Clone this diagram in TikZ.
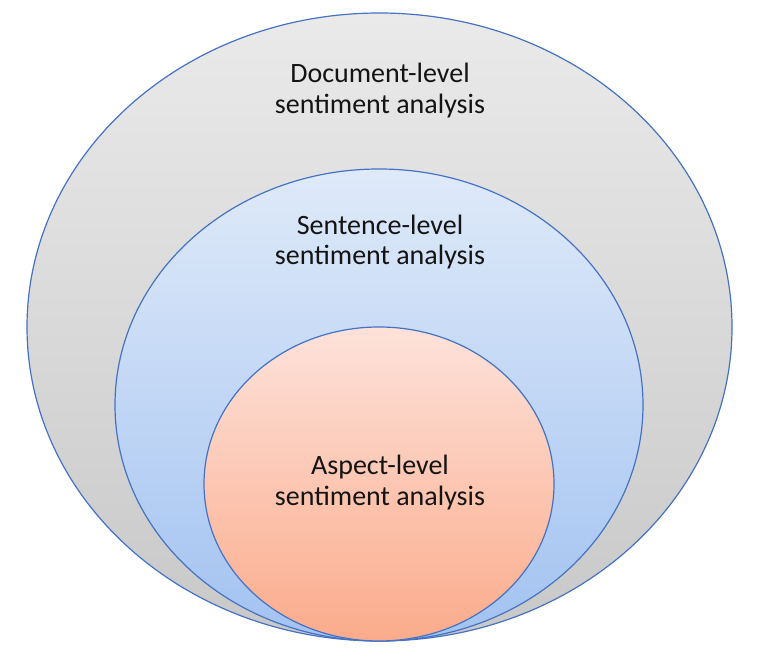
\documentclass[tikz,border=0pt]{standalone}
\usepackage{fontspec}
\setmainfont{Carlito}
\usetikzlibrary{shapes.geometric}
\definecolor{rim}{HTML}{4472C4}
\definecolor{labeltext}{HTML}{141414}
\definecolor{doctop}{HTML}{EAEAEA}
\definecolor{docbot}{HTML}{C8C8C8}
\definecolor{senttop}{HTML}{DFEAF9}
\definecolor{sentbot}{HTML}{A2C2F1}
\definecolor{asptop}{HTML}{FDE2DA}
\definecolor{aspbot}{HTML}{FBAB8B}

\begin{document}
\begin{tikzpicture}[
  x=0.75pt, y=0.75pt,
  level/.style={draw=rim, line width=0.9pt, ellipse, inner sep=0pt, outer sep=0pt},
  caption/.style={align=center, text=labeltext, font=\fontsize{21}{23}\selectfont}
]
\useasboundingbox (0,0) rectangle (764,668);
% nested levels, all touching at the bottom
\node[level, minimum width=705pt*0.75, minimum height=628pt*0.75, top color=doctop, bottom color=docbot] (doc) at (379.5,341) {};
\node[level, minimum width=528pt*0.75, minimum height=472pt*0.75, top color=senttop, bottom color=sentbot] (sent) at (379,263) {};
\node[level, minimum width=350pt*0.75, minimum height=314pt*0.75, top color=asptop, bottom color=aspbot] (asp) at (379,184) {};

\node[caption] (doctext) at (380,577.5) {Document-level\\sentiment analysis};
\node[caption] (senttext) at (380,426) {Sentence-level\\sentiment analysis};
\node[caption] (asptext) at (380,185.5) {Aspect-level\\sentiment analysis};
\end{tikzpicture}
\end{document}
